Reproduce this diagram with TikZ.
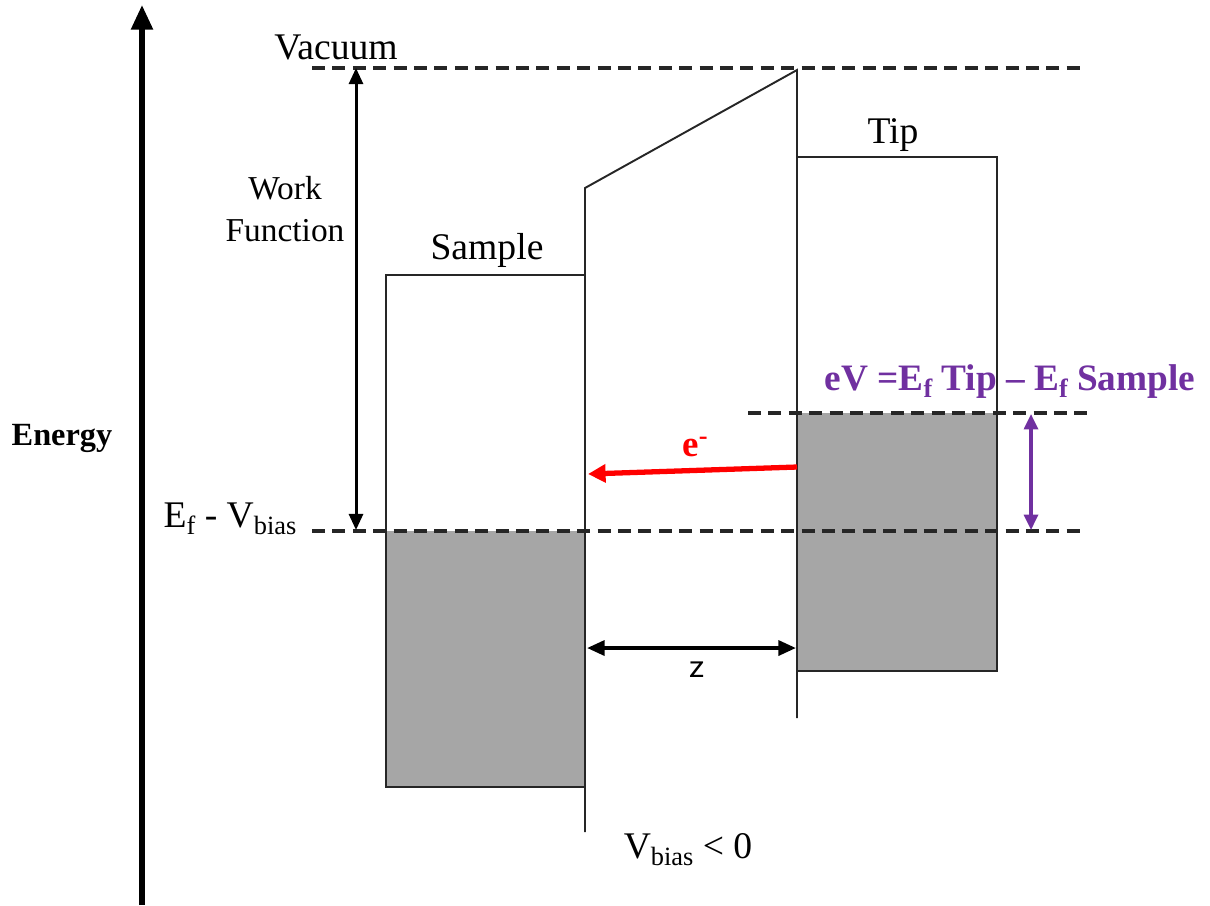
\documentclass[tikz,border=0pt]{standalone}
\usepackage{fontspec}
\setmainfont{Liberation Serif}
\usetikzlibrary{arrows.meta}
\definecolor{fillgray}{HTML}{A6A6A6}
\definecolor{evpurple}{HTML}{7030A0}
\definecolor{dashgray}{HTML}{262626}
\newcommand{\mysub}[1]{\raisebox{-0.4ex}{\fontsize{7.5}{8}\selectfont #1}}
\newcommand{\mysup}[1]{\raisebox{0.7ex}{\fontsize{7.5}{8}\selectfont #1}}
\begin{document}
\begin{tikzpicture}[x=0.01cm,y=-0.01cm,
  lbl/.style={inner sep=0pt, font=\fontsize{10.7}{12.8}\selectfont},
  level/.style={draw=dashgray, line width=0.95pt, dash pattern=on 3.7pt off 2.1pt},
  band/.style={draw=black!85, line width=0.55pt},
  axisarrow/.style={line width=1.45pt, -{Triangle[length=7pt,width=6pt]}},
  wfarrow/.style={line width=0.85pt, {Triangle[length=4.6pt,width=4pt]}-{Triangle[length=4.6pt,width=4pt]}},
  zarrow/.style={line width=1.1pt, {Triangle[length=5pt,width=4.2pt]}-{Triangle[length=5pt,width=4.2pt]}},
  earrow/.style={red, line width=1.5pt, -{Triangle[length=5pt,width=5pt]}},
  evarrow/.style={evpurple, line width=0.9pt, {Triangle[length=4.4pt,width=4pt]}-{Triangle[length=4.4pt,width=4pt]}}
]
\useasboundingbox (0,0) rectangle (1210,905);

% filled bands
\fill[fillgray] (386,531) rectangle (585,787);
\fill[fillgray] (797,413) rectangle (997,671);

% sample box
\draw[band] (585,275) -- (386,275) -- (386,787) -- (585,787);
\draw[band] (585,832) -- (585,188) -- (797,70) -- (797,718);
% tip box
\draw[band] (797,157) -- (997,157) -- (997,671) -- (797,671);

% levels
\coordinate (vacL) at (312,68);
\coordinate (vacR) at (1087,68);
\coordinate (efL) at (312,531);
\coordinate (efR) at (1087,531);
\coordinate (tipL) at (748,413);
\coordinate (tipR) at (1087,413);
\draw[level] (vacL) -- (vacR);
\draw[level] (efL) -- (efR);
\draw[level] (tipL) -- (tipR);

% energy axis
\coordinate (axB) at (142,905);
\coordinate (axT) at (142,5);
\draw[axisarrow] (axB) -- (axT);
\node[lbl, font=\fontsize{9.2}{11}\selectfont\bfseries] (energy) at (62,438) {Energy};

% labels
\node[lbl] (vac) at (336,47) {Vacuum};
\node[lbl, align=center, font=\fontsize{9.5}{12}\selectfont] (wf) at (285,209) {Work\\[0pt]Function};
\node[lbl] (sample) at (487,250) {Sample};
\node[lbl] (tip) at (893,135) {Tip};
\node[lbl] (ef) at (230,519) {E\mysub{f} - V\mysub{bias}};
\node[lbl, text=evpurple, font=\fontsize{10.6}{12}\selectfont\bfseries] (ev) at (1010,382) {eV =E\mysub{f} Tip -- E\mysub{f} Sample};
\node[lbl, text=red, font=\fontsize{10.5}{12}\selectfont\bfseries] (elab) at (695,447) {e\mysup{-}};
\node[lbl, font=\sffamily\fontsize{10}{12}\selectfont] (zlab) at (697,670) {z};
\node[lbl] (vb) at (688,850) {V\mysub{bias} < 0};

% arrows
\coordinate (wfT) at (356,68);
\coordinate (wfB) at (356,530);
\draw[wfarrow] (wfT) -- (wfB);

\coordinate (eS) at (797,467);
\coordinate (eE) at (588,474);
\draw[earrow] (eS) -- (eE);

\coordinate (zL) at (587,648);
\coordinate (zR) at (796,648);
\draw[zarrow] (zL) -- (zR);

\coordinate (evT) at (1031,414);
\coordinate (evB) at (1031,530);
\draw[evarrow] (evT) -- (evB);
\end{tikzpicture}
\end{document}
